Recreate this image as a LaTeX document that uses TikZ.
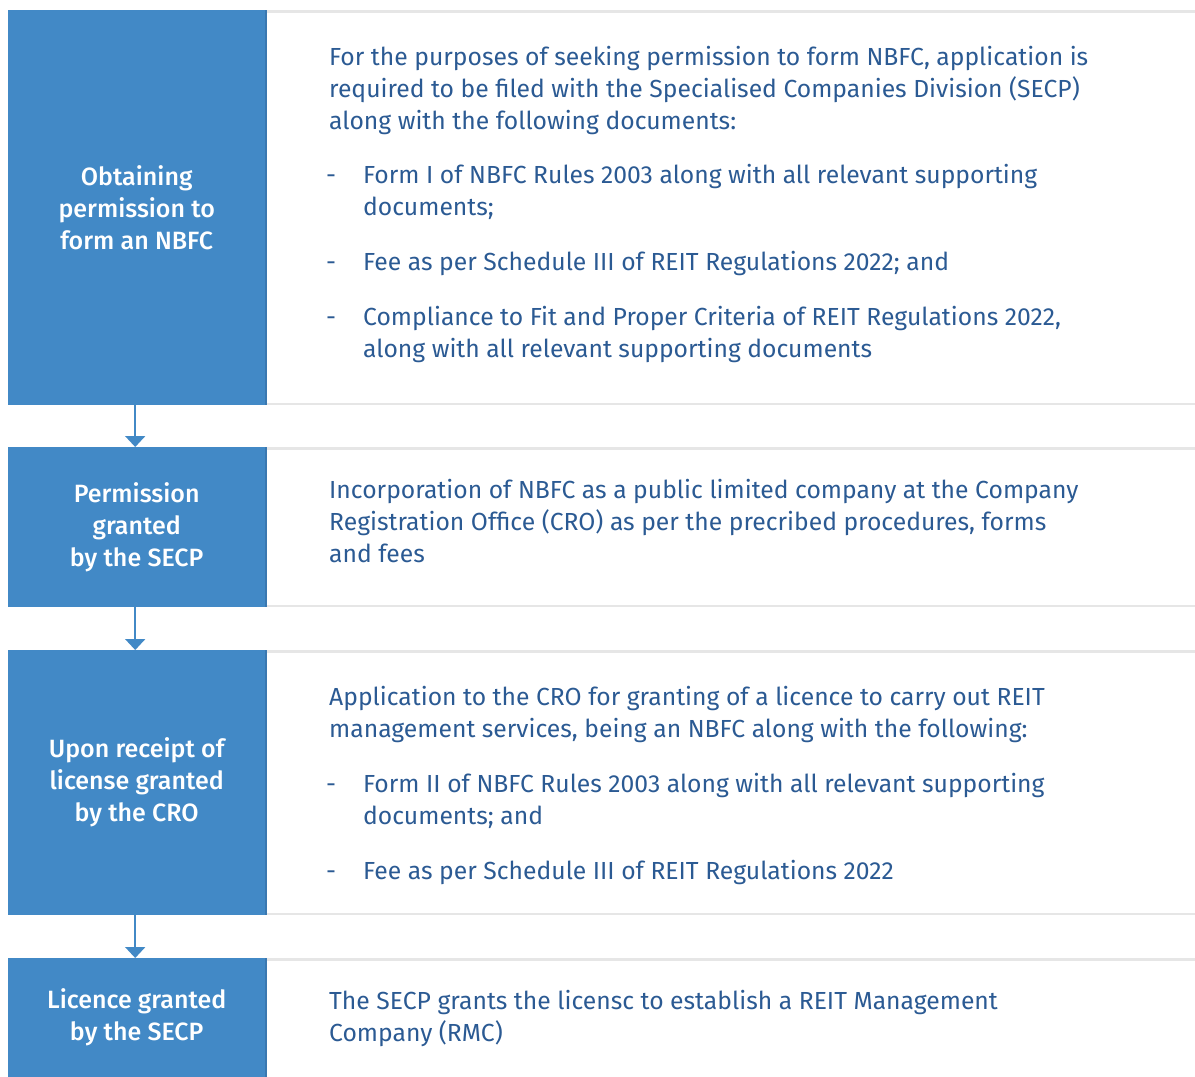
\documentclass[tikz,border=0pt]{standalone}
\usepackage{fontspec}
\setmainfont{Fira Sans}
\newfontfamily\medfont{Fira Sans}[UprightFont=* Medium]
\usetikzlibrary{arrows.meta}
\definecolor{boxblue}{HTML}{4289C6}
\definecolor{edgeblue}{HTML}{3A78B0}
\definecolor{txtblue}{HTML}{2B5A93}
\definecolor{linegrey}{HTML}{E6E6E6}
\tikzset{
  bluebox/.style={fill=boxblue, draw=none, anchor=north west, minimum width=257pt,
    inner sep=0pt, text=white, align=center, font=\medfont\fontsize{25}{32}\selectfont},
  rt/.style={anchor=base west, inner sep=0pt, text=txtblue, font=\fontsize{24.7}{32}\selectfont},
  greyline/.style={draw=linegrey, line width=2.5pt},
  edgeline/.style={draw=edgeblue, line width=1.5pt},
  arr/.style={draw=boxblue, line width=2pt, -{Triangle[width=20pt,length=11pt]}, shorten >=0pt},
}
\begin{document}
\begin{tikzpicture}[x=1pt,y=-1pt]
\useasboundingbox (0,0) rectangle (1195,1077);
% blue boxes
\node[bluebox, minimum height=395pt] (b1) at (8,10) {Obtaining\\permission to\\form an NBFC};
\node[bluebox, minimum height=160pt] (b2) at (8,447) {Permission\\granted\\by the SECP};
\node[bluebox, minimum height=265pt] (b3) at (8,650) {Upon receipt of\\license granted\\by the CRO};
\node[bluebox, minimum height=119pt] (b4) at (8,958) {Licence granted\\by the SECP};
% darker right edges and grey rules
\foreach \b in {b1,b2,b3,b4}{
  \draw[edgeline] ([xshift=0.75pt]\b.north east) -- ([xshift=0.75pt]\b.south east);
  \draw[greyline] ([xshift=1.5pt,yshift=-1.25pt]\b.north east) -- ([yshift=-1.25pt]\b.north east -| 1195,0);
}
\foreach \b in {b1,b2,b3}{
  \draw[greyline] ([xshift=1.5pt,yshift=1.25pt]\b.south east) -- ([yshift=1.25pt]\b.south east -| 1195,0);
}
% arrows
\draw[arr] ([xshift=-1.5pt]b1.south) -- ([xshift=-1.5pt]b2.north);
\draw[arr] ([xshift=-1.5pt]b2.south) -- ([xshift=-1.5pt]b3.north);
\draw[arr] ([xshift=-1.5pt]b3.south) -- ([xshift=-1.5pt]b4.north);
% panel 1
\node[rt] (p1a) at (329,65) {For the purposes of seeking permission to form NBFC, application is};
\node[rt] (p1b) at (329,97) {required to be filed with the Specialised Companies Division (SECP)};
\node[rt] (p1c) at (329,129) {along with the following documents:};
\node[rt] (d1a) at (326,183) {-};
\node[rt] (p1d) at (363,183) {Form I of NBFC Rules 2003 along with all relevant supporting};
\node[rt] (p1e) at (363,215) {documents;};
\node[rt] (d1b) at (326,270) {-};
\node[rt] (p1f) at (363,270) {Fee as per Schedule III of REIT Regulations 2022; and};
\node[rt] (d1c) at (326,325) {-};
\node[rt] (p1g) at (363,325) {Compliance to Fit and Proper Criteria of REIT Regulations 2022,};
\node[rt] (p1h) at (363,357) {along with all relevant supporting documents};
% panel 2
\node[rt] (p2a) at (329,498) {Incorporation of NBFC as a public limited company at the Company};
\node[rt] (p2b) at (329,530) {Registration Office (CRO) as per the precribed procedures, forms};
\node[rt] (p2c) at (329,562) {and fees};
% panel 3
\node[rt] (p3a) at (329,705) {Application to the CRO for granting of a licence to carry out REIT};
\node[rt] (p3b) at (329,737) {management services, being an NBFC along with the following:};
\node[rt] (d3a) at (326,792) {-};
\node[rt] (p3c) at (363,792) {Form II of NBFC Rules 2003 along with all relevant supporting};
\node[rt] (p3d) at (363,824) {documents; and};
\node[rt] (d3b) at (326,879) {-};
\node[rt] (p3e) at (363,879) {Fee as per Schedule III of REIT Regulations 2022};
% panel 4
\node[rt] (p4a) at (329,1009) {The SECP grants the licensc to establish a REIT Management};
\node[rt] (p4b) at (329,1041) {Company (RMC)};
\end{tikzpicture}
\end{document}
